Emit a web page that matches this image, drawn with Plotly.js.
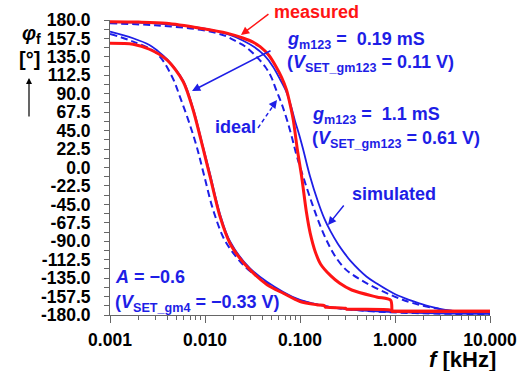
<!DOCTYPE html>
<html>
<head>
<meta charset="utf-8">
<script src="https://cdn.plot.ly/plotly-3.0.1.min.js"></script>
<style>
  html, body { margin: 0; padding: 0; background: #fff; }
  #plot { width: 525px; height: 371px; }
</style>
</head>
<body>
<div id="plot"></div>
<script>
// Phase response phi_f (deg) versus frequency (kHz) for two gm123 settings.

// gm123 = 1.1 mS — measured
const measHiF   = [0.001, 0.002, 0.0039, 0.0089, 0.017, 0.025, 0.032, 0.038, 0.047, 0.056, 0.064, 0.072, 0.079, 0.085, 0.094, 0.104, 0.117, 0.128, 0.145, 0.165, 0.21, 0.26, 0.35, 0.64, 0.9, 0.935, 0.96, 10];
const measHiPhi = [178, 177.5, 176, 170, 164, 158, 153, 147.5, 137, 123, 110, 95, 76, 58, 21, -11, -55, -80, -103, -118, -132, -141, -149.5, -158, -162, -175.5, -175.5, -175.5];

// gm123 = 0.19 mS — measured
const measLoF   = [0.001, 0.00175, 0.0026, 0.004, 0.0059, 0.0075, 0.0096, 0.0113, 0.0144, 0.0183, 0.023, 0.0298, 0.045, 0.0667, 0.1, 0.15, 0.18, 0.185, 0.19, 0.3, 0.31, 0.32, 0.9, 0.935, 0.96, 10];
const measLoPhi = [151.6, 150.4, 144.3, 131, 104.7, 70.2, 22, -11, -60, -92.5, -110, -125, -143, -153.5, -163.5, -167.5, -168.5, -170.5, -170.6, -171.8, -173, -173.1, -174, -175.5, -175.5, -175.5];

// gm123 = 1.1 mS — simulated
const simHiF   = [0.001, 0.003, 0.01, 0.018, 0.025, 0.033, 0.042, 0.052, 0.062, 0.072, 0.08, 0.088, 0.098, 0.108, 0.127, 0.155, 0.18, 0.21, 0.25, 0.3, 0.34, 0.5, 0.65, 0.96, 1.3, 1.8, 2.3, 3.5, 6, 10];
const simHiPhi = [177.5, 176, 169.5, 162, 155, 147, 137, 123, 107, 92, 76, 58, 40, 22, -10, -42, -62, -78, -93, -106, -114, -133, -142, -153.5, -160, -165.7, -169.5, -174, -176.5, -178];

// gm123 = 0.19 mS — simulated
const simLoF   = [0.001, 0.00175, 0.0026, 0.0032, 0.004, 0.0059, 0.0075, 0.0096, 0.0113, 0.0144, 0.0183, 0.0298, 0.0667, 0.1, 0.2, 0.4, 1, 3, 10];
const simLoPhi = [165.8, 157.7, 149.5, 142, 132, 106, 72, 24, -8, -57, -90, -123, -152, -161.5, -170, -174, -176.5, -178, -178.5];

// gm123 = 1.1 mS — ideal
const idealHiF   = [0.001, 0.003, 0.009, 0.016, 0.022, 0.027, 0.035, 0.043, 0.05, 0.056, 0.064, 0.073, 0.083, 0.093, 0.112, 0.135, 0.162, 0.2, 0.24, 0.3, 0.36, 0.5, 0.88, 1.5, 3, 6, 10];
const idealHiPhi = [176, 173.5, 168, 161, 153, 147, 135, 123, 110, 95, 78, 58, 35, 13, -17, -45, -70, -94, -110, -124, -131, -141, -155, -165, -173, -176.5, -178];

// gm123 = 0.19 mS — ideal
const idealLoF   = [0.001, 0.00175, 0.0031, 0.0045, 0.0055, 0.0068, 0.0082, 0.0098, 0.0122, 0.016, 0.021, 0.0288, 0.066, 0.1, 0.2, 0.5, 2, 10];
const idealLoPhi = [163, 153.6, 139.4, 110.8, 85, 55, 25, -10, -52, -88, -108, -125, -153, -162, -170, -175, -178, -179];

// Axis ticks
const xTickVals = [0.001, 0.01, 0.1, 1, 10];
const xTickText = ['0.001', '0.010', '0.100', '1.000', '10.000'];
const yTickVals = [180, 157.5, 135, 112.5, 90, 67.5, 45, 22.5, 0, -22.5, -45, -67.5, -90, -112.5, -135, -157.5, -180];
const yTickText = ['180.0', '157.5', '135.0', '112.5', '90.0', '67.5', '45.0', '22.5', '0.0', '-22.5', '-45.0', '-67.5', '-90.0', '-112.5', '-135.0', '-157.5', '-180.0'];

const BLUE = '#1e1ee6';
const RED = '#ff1414';
const AXIS = '#666666';
const FONT = 'Liberation Sans, Arial, Helvetica, sans-serif';

// minor ticks at 2..9 of each decade
const xMinor = [];
for (let d = -3; d < 1; d++) {
  for (let k = 2; k <= 9; k++) xMinor.push(k * Math.pow(10, d));
}

const W = 525, H = 371;
const M = { l: 110, r: 35, t: 20, b: 56, pad: 0 };
const px = x => (x - M.l) / (W - M.l - M.r);
const py = y => (H - M.b - y) / (H - M.t - M.b);

function blueLine(x, y, dash) {
  return { x, y, type: 'scatter', mode: 'lines', hoverinfo: 'skip',
           line: { color: BLUE, width: dash ? 2 : 1.8, dash: dash ? '7px,4px' : 'solid',
                   shape: 'spline', smoothing: 1 } };
}
function redLine(x, y) {
  return { x, y, type: 'scatter', mode: 'lines', hoverinfo: 'skip',
           line: { color: RED, width: 3, shape: 'spline', smoothing: 0.8 } };
}

const traces = [
  blueLine(idealLoF, idealLoPhi, true),
  blueLine(idealHiF, idealHiPhi, true),
  blueLine(simLoF, simLoPhi, false),
  blueLine(simHiF, simHiPhi, false),
  redLine(measLoF, measLoPhi),
  redLine(measHiF, measHiPhi)
];

function label(text, x, y, color, size, anchor) {
  return { text, xref: 'paper', yref: 'paper', x: px(x), y: py(y),
           xanchor: anchor || 'left', yanchor: 'middle', showarrow: false,
           font: { family: FONT, size: size || 18, color, weight: 'bold' } };
}
function pointer(f, phi, ax, ay, color) {
  return { text: '', xref: 'x', yref: 'y', x: Math.log10(f), y: phi,
           ax, ay, showarrow: true, arrowhead: 2, arrowsize: 1.1,
           arrowwidth: 1.5, arrowcolor: color };
}

const annotations = [
  label('<b>measured</b>', 272, 11.7, RED),
  pointer(0.0239, 161.7, 29, -22, RED),

  label('<b><i>g</i><sub>m123</sub> =\u00a0 0.19 mS</b>', 285, 40.7, BLUE),
  label('<b>(<i>V</i><sub>SET_gm123</sub> = 0.11 V)</b>', 285, 63.7, BLUE),
  pointer(0.0073, 93.4, 80, -41, BLUE),

  label('<b>ideal</b>', 213, 126.7, BLUE),
  pointer(0.0573, 82.4, -6, 8, BLUE),

  label('<b><i>g</i><sub>m123</sub> =\u00a0 1.1 mS</b>', 310, 115.7, BLUE),
  label('<b>(<i>V</i><sub>SET_gm123</sub> = 0.61 V)</b>', 310, 139.7, BLUE),

  label('<b>simulated</b>', 350, 193.7, BLUE),
  pointer(0.197, -70.2, 17, -21, BLUE),

  label('<b><i>A</i> = \u22120.6</b>', 113, 276.7, BLUE),
  label('<b>(<i>V</i><sub>SET_gm4</sub> = \u22120.33 V)</b>', 113, 303.7, BLUE),

  // axis titles
  label('<i>\u03c6</i><sub>f</sub>', 31, 34, '#000', 20, 'center'),
  label('<b>[°]</b>', 29, 59, '#000', 20, 'center'),
  { text: '', xref: 'paper', yref: 'paper', x: px(29), y: py(78), ax: 0, ay: 40,
    showarrow: true, arrowhead: 2, arrowsize: 1, arrowwidth: 1.2, arrowcolor: '#000' },
  label('<b><i>f</i> [kHz]</b>', 462, 359, '#000', 22, 'center')
];

// dashed leader from "ideal" label
const shapes = [
  { type: 'line', xref: 'paper', yref: 'paper',
    x0: px(258), y0: py(128), x1: px(273), y1: py(106),
    line: { color: BLUE, width: 1.5, dash: '4px,3px' } }
];

const tickFont = { family: FONT, size: 17.5, color: '#000', weight: 'bold' };

const layout = {
  width: W, height: H, margin: M,
  paper_bgcolor: '#fff', plot_bgcolor: '#fff',
  showlegend: false,
  xaxis: {
    type: 'log', range: [-3, 1],
    showline: true, linecolor: AXIS, linewidth: 1,
    showgrid: false, zeroline: false,
    tickmode: 'array', tickvals: xTickVals, ticktext: xTickText,
    ticks: 'outside', ticklen: 7, tickwidth: 1, tickcolor: AXIS,
    ticklabelstandoff: 2,
    tickfont: tickFont,
    minor: { tickmode: 'array', tickvals: xMinor, ticks: 'outside', ticklen: 4, tickcolor: AXIS, showgrid: false }
  },
  yaxis: {
    range: [-180, 180],
    showline: true, linecolor: AXIS, linewidth: 1,
    showgrid: false, zeroline: false,
    tickmode: 'array', tickvals: yTickVals, ticktext: yTickText,
    ticks: 'outside', ticklen: 5, tickwidth: 1, tickcolor: AXIS,
    ticklabelstandoff: 10,
    tickfont: tickFont,
    minor: { tickmode: 'linear', tick0: -180, dtick: 11.25, ticks: 'outside', ticklen: 5, tickcolor: AXIS, showgrid: false }
  },
  annotations, shapes
};

Plotly.newPlot('plot', traces, layout, { displayModeBar: false, staticPlot: true });
</script>
</body>
</html>
